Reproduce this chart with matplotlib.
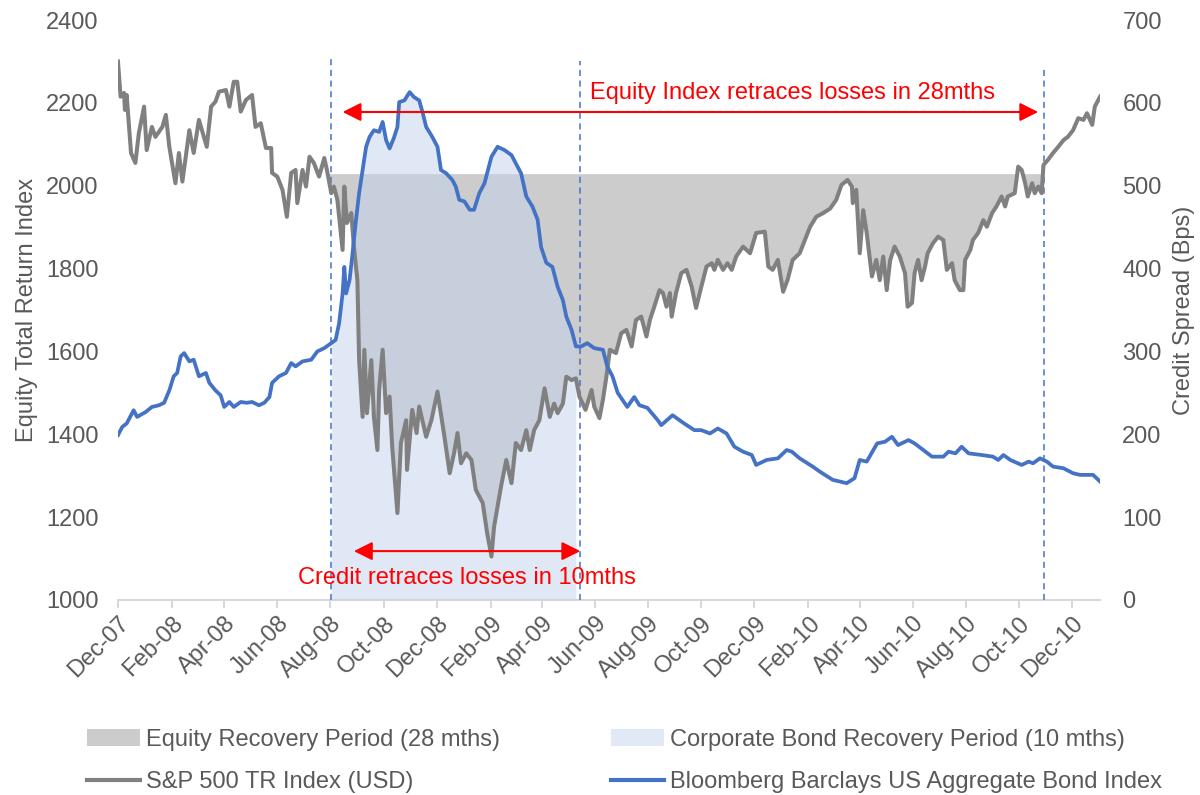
import matplotlib
matplotlib.use("Agg")
import matplotlib.pyplot as plt
import matplotlib.dates as mdates
from matplotlib.patches import Patch
from matplotlib.lines import Line2D
import numpy as np
import pandas as pd

plt.rcParams['font.family'] = ['Liberation Sans', 'DejaVu Sans']

START = pd.Timestamp('2007-12-01')

# S&P 500 TR index, (day since 1 Dec 2007, level)
sp_day = [0, 1, 3, 7, 8, 10, 15, 20, 24, 30, 33, 39, 43, 51, 55, 59, 66, 70, 74, 82,
          87, 93, 102, 107, 112, 116, 124, 128, 133, 137, 141, 147, 154, 158, 164, 170, 176, 177, 183, 189,
          194, 199, 204, 206, 212, 216, 220, 225, 231, 237, 240, 245, 248, 252, 258, 260, 263, 268, 271, 275,
          277, 281, 283, 286, 291, 294, 298, 300, 304, 308, 312, 315, 321, 325, 331, 332, 338, 343, 346, 354,
          360, 367, 375, 381, 386, 390, 394, 400, 406, 411, 419, 424, 429, 432, 436, 440, 446, 452, 457, 463,
          469, 473, 478, 484, 490, 496, 501, 505, 511, 515, 521, 526, 530, 537, 544, 547, 553, 557, 561, 565,
          572, 578, 584, 590, 595, 601, 607, 611, 616, 622, 626, 630, 634, 636, 641, 647, 653, 659, 664, 670,
          676, 682, 685, 689, 695, 700, 705, 710, 718, 726, 733, 743, 747, 752, 758, 764, 769, 775, 783, 789,
          795, 802, 810, 818, 825, 831, 838, 843, 844, 848, 852, 856, 860, 866, 871, 875, 879, 883, 887, 892,
          898, 904, 907, 912, 915, 919, 923, 927, 930, 936, 942, 948, 952, 958, 961, 967, 971, 973, 979, 982,
          988, 994, 998, 1004, 1009, 1015, 1019, 1022, 1030, 1034, 1038, 1042, 1045, 1050, 1053, 1057, 1061, 1063, 1068, 1074,
          1080, 1086, 1091, 1097, 1103, 1109, 1113, 1119, 1122, 1128]
sp_val = [2300, 2272, 2215, 2224, 2183, 2219, 2079, 2055, 2127, 2191, 2086, 2142, 2118, 2142, 2171, 2094, 2006, 2079, 2010, 2134,
          2079, 2159, 2094, 2191, 2203, 2227, 2231, 2191, 2251, 2251, 2179, 2207, 2219, 2142, 2151, 2091, 2091, 2031, 2022, 1990,
          1925, 2031, 2038, 1958, 2038, 1998, 2070, 2055, 2022, 2067, 2038, 1982, 1998, 1966, 1845, 1998, 1910, 1934, 1853, 1772,
          1579, 1442, 1604, 1451, 1579, 1442, 1362, 1507, 1604, 1451, 1491, 1370, 1210, 1379, 1434, 1314, 1459, 1403, 1467, 1394,
          1434, 1503, 1394, 1306, 1354, 1403, 1330, 1354, 1338, 1266, 1234, 1162, 1105, 1177, 1225, 1274, 1338, 1282, 1379, 1362,
          1410, 1362, 1410, 1434, 1511, 1442, 1474, 1451, 1474, 1539, 1531, 1535, 1491, 1459, 1507, 1467, 1439, 1483, 1539, 1604,
          1596, 1644, 1652, 1612, 1676, 1684, 1636, 1676, 1708, 1748, 1741, 1708, 1741, 1684, 1741, 1789, 1797, 1756, 1705, 1756,
          1805, 1813, 1797, 1821, 1797, 1813, 1797, 1829, 1853, 1837, 1886, 1889, 1805, 1797, 1821, 1744, 1772, 1821, 1837, 1869,
          1901, 1925, 1934, 1945, 1966, 2002, 2014, 1998, 1958, 1990, 1837, 1941, 1886, 1781, 1821, 1772, 1829, 1748, 1821, 1853,
          1829, 1789, 1708, 1717, 1789, 1821, 1772, 1805, 1837, 1861, 1877, 1869, 1797, 1813, 1772, 1748, 1748, 1821, 1845, 1869,
          1886, 1917, 1901, 1934, 1950, 1974, 1950, 1974, 1982, 2046, 2038, 2006, 1974, 2006, 1982, 1998, 1982, 2050, 2062, 2079,
          2094, 2110, 2118, 2134, 2163, 2159, 2175, 2147, 2191, 2215]

# Corporate bond credit spread (bps)
bd_day = [0, 5, 10, 18, 22, 32, 39, 47, 53, 59, 64, 68, 72, 76, 82, 87, 93, 101, 105, 112,
          118, 122, 128, 133, 141, 148, 154, 162, 168, 174, 177, 185, 193, 199, 204, 212, 222, 229, 237, 245,
          250, 254, 258, 260, 262, 266, 269, 273, 277, 281, 285, 289, 294, 300, 304, 308, 312, 317, 321, 323,
          329, 335, 340, 346, 350, 354, 361, 367, 371, 377, 384, 388, 392, 398, 404, 409, 415, 421, 424, 429,
          436, 444, 452, 457, 463, 469, 476, 482, 486, 492, 499, 505, 511, 515, 521, 526, 532, 539, 547, 557,
          562, 568, 574, 585, 593, 599, 608, 620, 624, 637, 649, 662, 670, 680, 689, 699, 708, 718, 728, 733,
          745, 758, 768, 774, 783, 798, 806, 821, 837, 846, 852, 860, 872, 881, 889, 896, 908, 915, 925, 935,
          948, 954, 962, 969, 977, 992, 1005, 1011, 1017, 1025, 1038, 1046, 1051, 1059, 1067, 1074, 1086, 1097, 1105, 1120,
          1128]
bd_val = [199, 209, 213, 229, 221, 227, 233, 235, 238, 253, 270, 274, 294, 298, 288, 290, 270, 274, 262, 253,
          247, 233, 239, 233, 239, 238, 239, 235, 238, 245, 262, 270, 274, 286, 282, 288, 290, 300, 304, 310,
          314, 334, 370, 402, 370, 386, 414, 455, 491, 519, 547, 559, 567, 565, 577, 555, 545, 558, 571, 601,
          603, 613, 607, 603, 588, 571, 559, 547, 519, 515, 507, 499, 483, 481, 471, 471, 491, 503, 515, 535,
          547, 543, 537, 527, 515, 487, 475, 459, 426, 407, 402, 378, 362, 342, 326, 306, 306, 310, 304, 302,
          282, 270, 250, 233, 245, 235, 232, 217, 211, 223, 214, 205, 205, 201, 207, 201, 185, 179, 175, 163,
          169, 171, 181, 179, 171, 161, 155, 145, 141, 147, 169, 167, 189, 191, 197, 187, 193, 189, 181, 173,
          173, 179, 177, 185, 177, 175, 173, 169, 175, 169, 163, 167, 165, 171, 167, 161, 159, 153, 151, 151,
          143]

# recovery periods
equity_start = pd.Timestamp('2008-08-02')
credit_end = pd.Timestamp('2009-05-15')
equity_end = pd.Timestamp('2010-10-30')
pre_crisis_level = 2028

TEXT = '#595959'
GREY = '#808080'
BLUE = '#4472C4'

sp_dates = START + pd.to_timedelta(sp_day, unit='D')
bd_dates = START + pd.to_timedelta(bd_day, unit='D')
sp = np.array(sp_val, dtype=float)
bd = np.array(bd_val, dtype=float)

fig = plt.figure(figsize=(12, 7.95), dpi=100)
ax = fig.add_axes([0.0983, 0.2453, 0.8184, 0.7295])
ax2 = ax.twinx()

# grey equity recovery area (bottom layer)
in_eq = (sp_dates >= equity_start) & (sp_dates <= equity_end) & (sp < pre_crisis_level)
ax.fill_between(sp_dates, sp, pre_crisis_level, where=in_eq, interpolate=True,
                color='#CCCCCC', lw=0, zorder=1)

# light blue credit recovery area
in_cr = (bd_dates >= equity_start) & (bd_dates <= credit_end)
ax2.fill_between(bd_dates, 0, bd, where=in_cr, color=(195/255, 211/255, 237/255),
                 alpha=0.5, lw=0, zorder=1)

for d, top in [(equity_start, 0.936), (credit_end, 0.93), (equity_end, 0.917)]:
    ax2.axvline(d, ymin=0, ymax=top, color=BLUE, lw=1.1, ls=(0, (4, 3)), zorder=2)

ax2.plot(sp_dates, sp, color=GREY, lw=2.9, transform=ax.transData, zorder=3)
ax2.plot(bd_dates, bd, color=BLUE, lw=2.7, zorder=4)

ax.set_xlim(START, START + pd.Timedelta(days=1128))
ax.set_ylim(1000, 2400)
ax2.set_ylim(0, 700)
ax.set_yticks(range(1000, 2401, 200))
ax2.set_yticks(range(0, 701, 100))

ax.xaxis.set_major_locator(mdates.MonthLocator(bymonth=[2, 4, 6, 8, 10, 12]))
ax.xaxis.set_major_formatter(mdates.DateFormatter('%b-%y'))
ax.tick_params(axis='x', length=6, width=1.5, color='#D9D9D9', labelsize=17,
               labelcolor=TEXT, pad=3)
plt.setp(ax.get_xticklabels(), rotation=45, ha='right', va='top', rotation_mode='anchor')
ax.tick_params(axis='y', length=0, labelsize=17, labelcolor=TEXT, pad=14)
ax2.tick_params(axis='y', length=0, labelsize=17, labelcolor=TEXT, pad=16)

for s in ['top', 'left', 'right']:
    ax.spines[s].set_visible(False)
ax.spines['bottom'].set_color('#D9D9D9')
ax.spines['bottom'].set_linewidth(1.5)
for s in ax2.spines.values():
    s.set_visible(False)

ax.set_ylabel('Equity Total Return Index', fontsize=17, color=TEXT, labelpad=6)
ax2.set_ylabel('Credit Spread (Bps)', fontsize=17, color=TEXT, labelpad=8)

# annotations
arrow = dict(arrowstyle='<|-|>', color='red', lw=1.5, mutation_scale=28,
             shrinkA=0, shrinkB=0)
ax2.annotate('', xy=(START + pd.Timedelta(days=258), 589),
             xytext=(START + pd.Timedelta(days=1057), 589), arrowprops=arrow, zorder=5)
ax2.annotate('', xy=(START + pd.Timedelta(days=271), 59),
             xytext=(credit_end, 59), arrowprops=arrow, zorder=5)
ax2.text(START + pd.Timedelta(days=775), 612, 'Equity Index retraces losses in 28mths',
         color='red', fontsize=17, ha='center', va='center', zorder=5)
ax2.text(START + pd.Timedelta(days=401), 26, 'Credit retraces losses in 10mths',
         color='red', fontsize=17, ha='center', va='center', zorder=5)

handles = [
    Patch(facecolor='#CCCCCC', edgecolor='none'),
    Line2D([0], [0], color=GREY, lw=3),
    Patch(facecolor='#E1E9F6', edgecolor='none'),
    Line2D([0], [0], color=BLUE, lw=3),
]
labels = ['Equity Recovery Period (28 mths)', 'S&P 500 TR Index (USD)',
          'Corporate Bond Recovery Period (10 mths)', 'Bloomberg Barclays US Aggregate Bond Index']
fig.legend(handles, labels, ncol=2, loc='upper left', bbox_to_anchor=(0.0725, 0.083),
           frameon=False, fontsize=17, labelcolor=TEXT, handlelength=2.25, handleheight=0.7,
           handletextpad=0.25, columnspacing=4.7, labelspacing=0.85, borderpad=0,
           borderaxespad=0)

fig.savefig('out.png', dpi=100)
